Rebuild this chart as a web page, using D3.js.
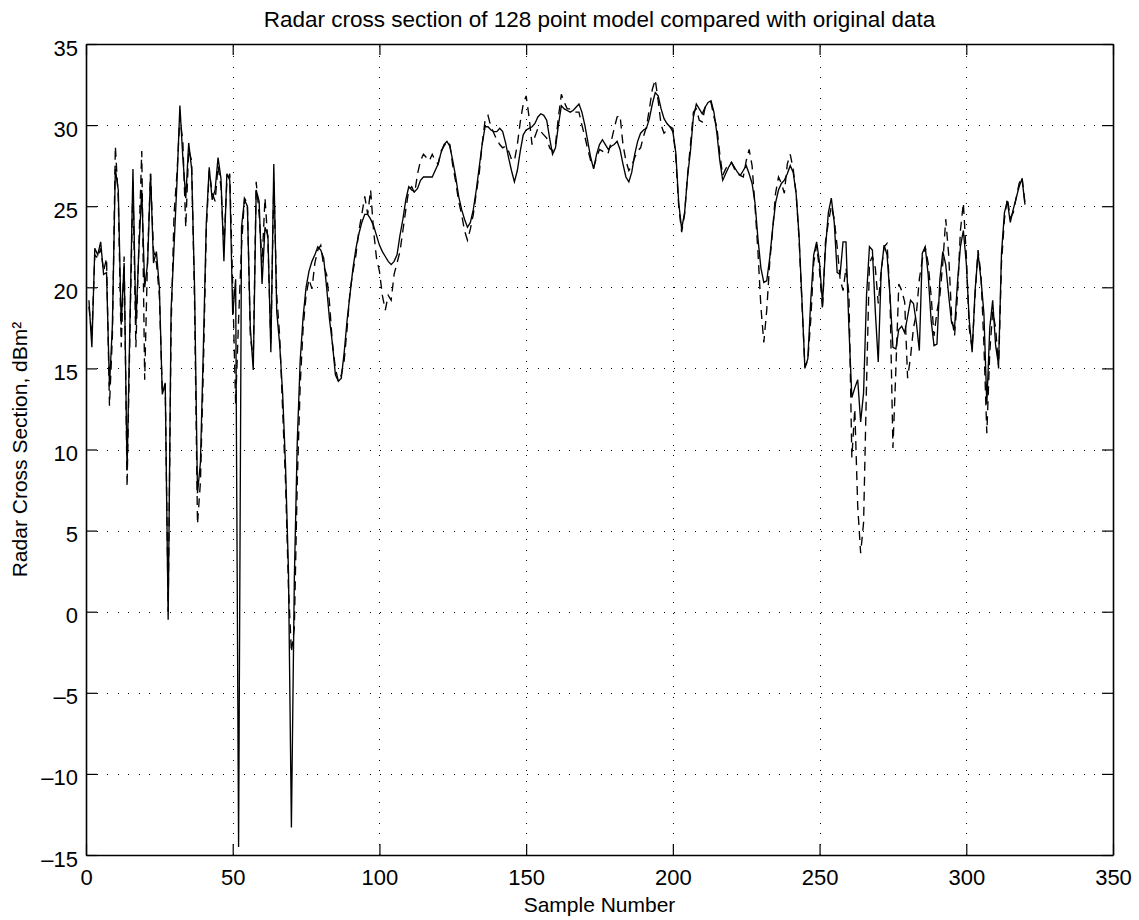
<!DOCTYPE html>
<html>
<head>
<meta charset="utf-8">
<script src="https://cdn.jsdelivr.net/npm/d3@7"></script>
<style>
  html, body { margin: 0; padding: 0; background: #fff; }
  svg { display: block; }
  text { font-family: "Liberation Sans", Arial, Helvetica, sans-serif; fill: #000; }
</style>
</head>
<body>
<svg id="chart" width="1139" height="920"></svg>
<script>
// ---- Data ----
const titleText = "Radar cross section of 128 point model compared with original data";
const xLabel = "Sample Number";
const yLabel = "Radar Cross Section, dBm²";
const xTicks = [0, 50, 100, 150, 200, 250, 300, 350];
const yTicks = [-15, -10, -5, 0, 5, 10, 15, 20, 25, 30, 35];
const firstSample = 1;

// 128 point model (solid line), samples 1..320
const modelRCS = [
  19.2, 16.3, 22.4, 22.0, 22.8, 20.8, 20.9, 13.9, 17.7, 27.3,
  26.0, 17.7, 21.5, 8.7, 18.1, 27.3, 17.7, 22.2, 26.0, 20.0,
  21.5, 27.0, 21.5, 22.2, 20.0, 13.4, 14.1, -0.5, 18.6, 22.5,
  26.5, 31.2, 28.0, 25.5, 28.9, 27.3, 20.0, 7.3, 9.2, 16.3,
  24.0, 27.4, 25.4, 26.0, 28.0, 26.7, 21.6, 27.0, 26.6, 18.3,
  20.5, -14.5, 23.7, 25.4, 25.0, 17.5, 14.9, 26.0, 25.3, 20.2,
  23.7, 23.2, 16.0, 27.6, 18.5, 16.5, 13.5, 9.0, 2.5, -13.3,
  2.0, 10.5, 15.5, 18.2, 20.0, 21.0, 21.6, 22.0, 22.5, 22.3,
  21.8, 20.0, 18.0, 16.5, 14.6, 14.2, 14.4, 16.0, 18.0, 19.6,
  21.2, 22.4, 23.3, 24.0, 24.5, 24.5, 24.2, 23.8, 23.2, 22.6,
  22.2, 21.9, 21.6, 21.4, 21.6, 22.0, 23.2, 24.2, 25.4, 26.2,
  26.0, 25.9, 26.1, 26.6, 26.8, 26.8, 26.8, 26.8, 27.2, 27.6,
  28.3, 28.8, 29.0, 28.7, 27.8, 26.8, 25.6, 24.8, 24.2, 23.7,
  24.0, 24.8, 26.0, 27.4, 28.8, 29.9, 29.9, 29.7, 29.6, 29.6,
  29.8, 29.6, 28.9, 28.0, 27.2, 26.5, 27.2, 28.4, 29.4, 29.7,
  29.8, 29.9, 30.1, 30.5, 30.7, 30.6, 30.3, 29.2, 28.2, 28.6,
  30.0, 31.2, 31.0, 30.9, 30.8, 30.9, 31.1, 31.3, 30.8, 30.0,
  29.0, 28.0, 27.3, 28.2, 28.8, 29.1, 28.8, 28.5, 28.7, 28.8,
  29.0, 28.5, 27.6, 26.8, 26.5, 27.1, 28.2, 29.0, 29.5, 29.7,
  29.8, 30.4, 31.3, 32.0, 31.8, 31.0, 30.4, 30.1, 29.9, 29.6,
  28.3, 25.2, 23.6, 24.6, 26.8, 28.4, 30.5, 31.3, 31.0, 30.7,
  31.1, 31.4, 31.5, 30.8, 29.5, 27.8, 26.6, 27.0, 27.4, 27.7,
  27.4, 27.1, 26.9, 27.2, 27.5, 27.0, 26.4, 25.2, 23.0, 21.2,
  20.3, 20.4, 21.8, 23.6, 25.2, 26.0, 26.4, 26.6, 27.0, 27.5,
  27.1, 25.8, 23.2, 19.2, 15.0, 15.6, 19.2, 22.0, 22.8, 21.5,
  19.0, 22.4, 24.6, 25.5, 24.0, 20.9, 20.8, 22.8, 22.8, 17.5,
  13.2, 13.8, 14.3, 11.7, 13.5, 19.5, 22.5, 22.3, 18.5, 15.4,
  21.0, 22.6, 22.0, 19.5, 16.3, 16.2, 17.4, 17.6, 17.2, 18.2,
  19.2, 19.0, 17.8, 16.1, 22.1, 22.5, 20.8, 18.0, 16.4, 16.5,
  20.5, 22.2, 21.4, 19.5, 17.8, 17.5, 20.3, 22.5, 23.5, 21.5,
  18.0, 16.0, 19.8, 22.1, 20.5, 18.4, 12.8, 17.5, 19.2, 16.4,
  15.2, 22.1, 24.6, 25.3, 24.0, 24.8, 25.5, 26.2, 26.7, 25.1
];

// original data (dashed line), samples 1..320
const originalRCS = [
  18.8, 17.0, 22.0, 21.8, 22.4, 21.0, 21.8, 12.7, 17.0, 28.7,
  25.5, 16.3, 21.9, 7.7, 17.5, 26.5, 16.3, 22.5, 28.4, 14.3,
  22.0, 27.0, 22.3, 21.5, 19.5, 13.6, 14.0, 0.0, 17.5, 24.5,
  27.0, 30.5, 29.0, 23.7, 28.5, 27.8, 19.0, 5.4, 8.0, 15.0,
  23.5, 27.2, 25.8, 25.3, 27.5, 26.2, 22.5, 26.5, 27.0, 20.0,
  12.8, 18.0, 22.5, 25.5, 25.2, 17.0, 15.5, 26.5, 24.5, 21.5,
  25.5, 22.8, 16.5, 26.5, 19.5, 17.0, 12.5, 8.0, 1.5, -2.5,
  -1.0, 8.0, 14.0, 17.5, 19.5, 20.5, 19.9, 21.5, 22.3, 22.6,
  21.3, 20.8, 19.0, 16.5, 15.0, 14.2, 14.6, 15.5, 17.5, 19.8,
  21.0, 22.0, 23.5, 24.5, 25.6, 24.5, 26.0, 23.5, 21.8, 21.0,
  19.5, 18.6, 19.5, 19.2, 20.8, 21.5, 22.2, 23.5, 24.8, 26.0,
  26.2, 25.8, 27.0, 27.8, 28.2, 28.0, 27.8, 28.2, 27.8, 27.6,
  28.4, 28.7, 29.0, 28.8, 27.5, 26.5, 25.3, 24.5, 23.5, 22.9,
  23.6, 24.5, 25.8, 27.0, 28.8, 30.3, 30.6, 29.9, 29.5, 29.1,
  28.8, 28.6, 28.7, 28.4, 27.9, 27.8, 28.8, 30.2, 31.3, 31.8,
  30.5, 28.8, 29.3, 29.8, 29.6, 29.4, 29.2, 28.6, 28.4, 28.8,
  30.5, 31.9, 31.4, 31.0, 31.0, 30.9, 30.8, 30.8, 30.0, 29.3,
  28.5, 27.8, 27.4, 28.0, 28.5, 28.4, 28.2, 28.3, 29.0, 29.8,
  30.5, 30.6, 28.8, 27.8, 27.2, 27.5, 28.0, 28.4, 28.6, 29.3,
  29.9, 31.0, 32.2, 32.8, 31.5, 30.0, 29.5, 29.7, 29.9, 29.8,
  28.0, 25.0, 23.4, 24.5, 26.9, 28.8, 30.8, 31.0, 30.3, 30.2,
  31.1, 31.3, 31.4, 30.5, 29.9, 28.2, 26.9, 27.3, 27.6, 27.7,
  27.3, 27.0, 26.9, 26.8, 27.8, 28.5, 27.5, 25.0, 22.2, 18.8,
  16.6, 18.6, 21.5, 23.5, 25.8, 26.8, 26.4, 25.8, 27.6, 28.2,
  27.3, 25.8, 23.0, 19.0, 15.1, 15.5, 18.0, 21.5, 22.6, 21.0,
  18.6, 22.8, 24.0, 25.0, 24.2, 22.5, 20.5, 19.8, 21.2, 19.6,
  9.5, 12.5, 6.5, 3.6, 5.5, 14.0, 21.5, 21.9, 21.2, 19.0,
  21.0, 22.5, 22.7, 19.5, 10.1, 14.9, 20.2, 19.8, 19.1, 14.4,
  15.7, 17.5, 18.4, 20.5, 21.7, 22.5, 21.5, 19.5, 17.0, 18.5,
  19.5, 21.5, 24.2, 22.0, 18.2, 17.0, 19.5, 23.5, 25.2, 22.0,
  17.5, 16.2, 19.5, 22.3, 20.8, 16.5, 11.0, 16.0, 18.5, 17.5,
  15.0, 21.5, 24.2, 25.5, 24.3, 24.6, 25.5, 26.4, 26.8, 25.2
];

// ---- Layout ----
const W = 1139, H = 920;
const m = { left: 86, right: 1139 - 1113, top: 44, bottom: 920 - 855 };
const iw = W - m.left - m.right, ih = H - m.top - m.bottom;
const tickFont = 22;
const titleFont = 22.5;
const labelFont = 21;

const svg = d3.select("#chart");
svg.append("rect").attr("width", W).attr("height", H).attr("fill", "#fff");
const g = svg.append("g").attr("transform", `translate(${m.left},${m.top})`);

const x = d3.scaleLinear().domain([xTicks[0], xTicks[xTicks.length - 1]]).range([0, iw]);
const y = d3.scaleLinear().domain([yTicks[0], yTicks[yTicks.length - 1]]).range([ih, 0]);

// grid (dotted)
const grid = g.append("g").attr("stroke", "#000").attr("stroke-width", 1)
  .attr("stroke-dasharray", "1,9.5").attr("shape-rendering", "crispEdges");
xTicks.slice(1, -1).forEach(t => grid.append("line")
  .attr("x1", Math.round(x(t)) + 0.5).attr("x2", Math.round(x(t)) + 0.5)
  .attr("y1", ih).attr("y2", 0));
yTicks.slice(1, -1).forEach(t => grid.append("line")
  .attr("x1", 0).attr("x2", iw)
  .attr("y1", Math.round(y(t)) + 0.5).attr("y2", Math.round(y(t)) + 0.5));

// lines
const line = d3.line()
  .x((d, i) => x(firstSample + i))
  .y(d => y(d));

g.append("path").datum(originalRCS)
  .attr("fill", "none").attr("stroke", "#000").attr("stroke-width", 1.35)
  .attr("stroke-dasharray", "9,6").attr("d", line);

g.append("path").datum(modelRCS)
  .attr("fill", "none").attr("stroke", "#000").attr("stroke-width", 1.35)
  .attr("d", line);

// axes (ticks inward, MATLAB style box)
const tickLen = 11;
const fmt = d => d < 0 ? "\u2013" + Math.abs(d) : String(d);
const axB = d3.axisBottom(x).tickValues(xTicks).tickSize(-tickLen).tickSizeOuter(0).tickPadding(14).tickFormat(fmt);
const axL = d3.axisLeft(y).tickValues(yTicks).tickSize(-tickLen).tickSizeOuter(0).tickPadding(8).tickFormat(fmt);
const axT = d3.axisTop(x).tickValues(xTicks).tickSize(-tickLen).tickSizeOuter(0).tickFormat("");
const axR = d3.axisRight(y).tickValues(yTicks).tickSize(-tickLen).tickSizeOuter(0).tickFormat("");

function style(sel) {
  sel.selectAll("path.domain").attr("stroke", "#000").attr("stroke-width", 1.6);
  sel.selectAll(".tick line").attr("stroke", "#000").attr("stroke-width", 1.2);
  sel.selectAll("text").attr("font-size", tickFont)
    .attr("font-family", '"Liberation Sans", Arial, sans-serif').attr("fill", "#000");
}
g.append("g").attr("transform", `translate(0,${ih})`).call(axB).call(style);
g.append("g").call(axL).call(style).selectAll("text").attr("dy", "0.5em");
g.append("g").call(axT).call(style);
g.append("g").attr("transform", `translate(${iw},0)`).call(axR).call(style);

// titles
svg.append("text").attr("x", m.left + iw / 2).attr("y", 27)
  .attr("text-anchor", "middle").attr("font-size", titleFont).text(titleText);
svg.append("text").attr("x", m.left + iw / 2).attr("y", 912)
  .attr("text-anchor", "middle").attr("font-size", labelFont).text(xLabel);
svg.append("text")
  .attr("transform", `translate(27,${m.top + ih / 2}) rotate(-90)`)
  .attr("text-anchor", "middle").attr("font-size", labelFont).text(yLabel);
</script>
</body>
</html>
